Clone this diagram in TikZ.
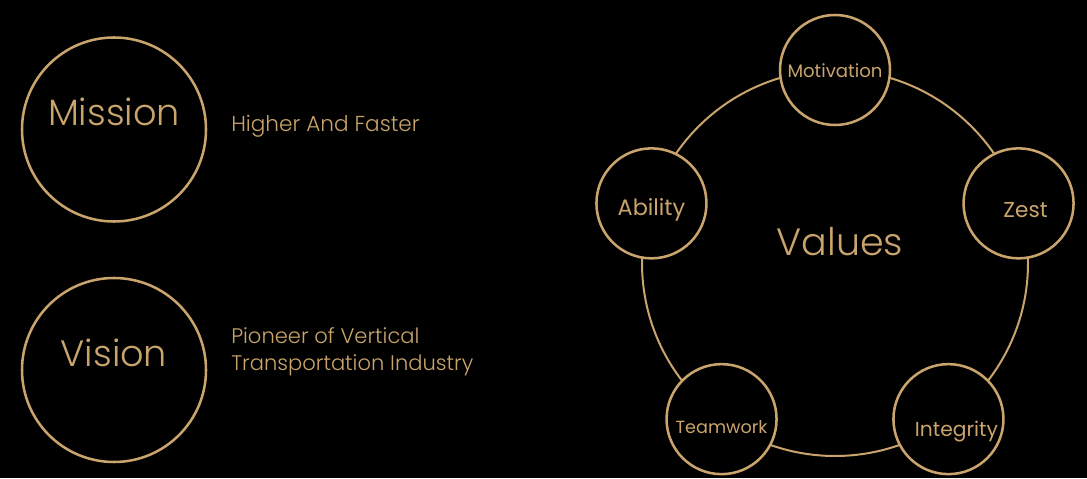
\documentclass[tikz,border=0pt]{standalone}
\usepackage{fontspec}
\setmainfont{Poppins}
\newfontfamily\lightfont{Poppins Light}
\usetikzlibrary{positioning, calc}
\definecolor{gold}{RGB}{201,164,108}
\tikzset{
  bigring/.style={draw=gold, line width=1.9pt, circle, minimum size=184*0.75pt, inner sep=0pt},
  valuering/.style={draw=gold, line width=1.9pt, circle, fill=black, minimum size=110*0.75pt, inner sep=0pt},
  goldtext/.style={text=gold, inner sep=0pt}
}

\begin{document}
\begin{tikzpicture}[x=0.75pt, y=0.75pt]
      % Background and page size
      \useasboundingbox[fill=black] (0,0) rectangle (1087,478);

      % Mission and vision
      \node[bigring] (mission) at (114,348.5) {};
      \node[goldtext, font=\lightfont\fontsize{27.5}{33}\selectfont] (missiontxt) at (114,366) {Mission};
      \node[goldtext, font=\lightfont\fontsize{16.2}{20}\selectfont, anchor=base west] (missiondesc) at (231,346) {Higher And Faster};

      \node[bigring] (vision) at (114,108) {};
      \node[goldtext, font=\lightfont\fontsize{27.5}{33}\selectfont] (visiontxt) at (114,125) {Vision};
      \node[goldtext, font=\lightfont\fontsize{15.8}{20.25}\selectfont, align=left, anchor=west] (visiondesc) at (231,126) {Pioneer of Vertical\\Transportation Industry};

      % Values ring
      \node[draw=gold, line width=1.5pt, circle, minimum size=386*0.75pt, inner sep=0pt] (ring) at (835,215) {};
      \node[goldtext, font=\lightfont\fontsize{28.5}{34}\selectfont] (values) at (840,236) {Values};

      % Value circles on the ring
      \foreach \name/\ang/\txt/\sz/\dx/\dy in {mot/90/Motivation/13.6/0/-1, zest/18/Zest/16.2/7/-7,
          integ/-54/Integrity/15.2/8/-12, team/-126/Teamwork/13.2/0/-8, abil/162/Ability/16.8/0/-7} {
          \node[valuering] (\name) at ($(ring.center)+(\ang:193)$) {};
          \node[goldtext, font=\fontsize{\sz}{\sz}\selectfont] (\name txt) at ([shift={(\dx,\dy)}]\name.center) {\txt};
      }
\end{tikzpicture}
\end{document}
